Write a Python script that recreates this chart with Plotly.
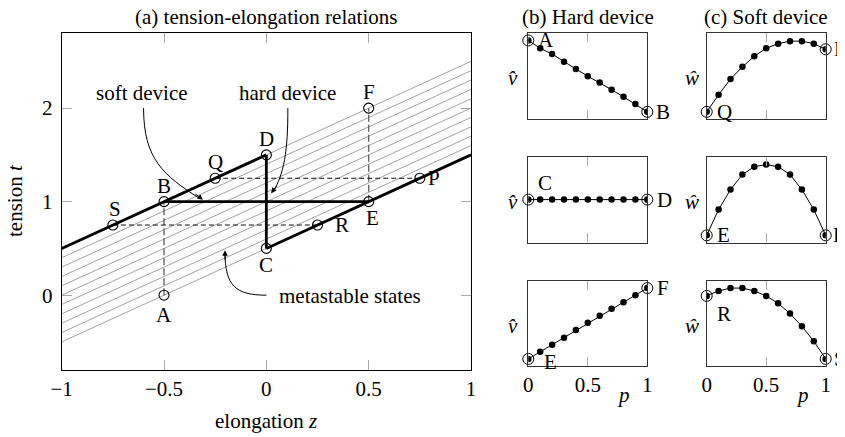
import plotly.graph_objects as go

# ---------------- data ----------------
# main panel: labelled states (elongation z, tension t)
state_labels = ["A", "B", "C", "D", "E", "F", "P", "Q", "R", "S"]
state_z = [-0.5, -0.5, 0.0, 0.0, 0.5, 0.5, 0.75, -0.25, 0.25, -0.75]
state_t = [0.0, 1.0, 0.5, 1.5, 1.0, 2.0, 1.25, 1.25, 0.75, 0.75]

# metastable branches t = z + c
meta_offsets = [0.5, 0.6, 0.7, 0.8, 0.9, 1.0, 1.1, 1.2, 1.3, 1.4, 1.5]
z_span = [-1.0, 1.0]

# thick stable branches
upper_z = [-1.0, 0.0]
upper_t = [0.5, 1.5]
lower_z = [0.0, 1.0]
lower_t = [0.5, 1.5]

# hard device path (B-E horizontal, C-D vertical)
hard_h_z = [-0.5, 0.5]
hard_h_t = [1.0, 1.0]
hard_v_z = [0.0, 0.0]
hard_v_t = [0.5, 1.5]

# dashed guide lines
dash_AB_z = [-0.5, -0.5]; dash_AB_t = [0.0, 1.0]
dash_EF_z = [0.5, 0.5];   dash_EF_t = [1.0, 2.0]
dash_QP_z = [-0.25, 0.75]; dash_QP_t = [1.25, 1.25]
dash_SR_z = [-0.75, 0.25]; dash_SR_t = [0.75, 0.75]

x_ticks = [-1, -0.5, 0, 0.5, 1]
x_ticktext = ["\u22121", "\u22120.5", "0", "0.5", "1"]
y_ticks = [0, 1, 2]
y_ticktext = ["0", "1", "2"]

# small panels: distributions over p
p = [0.0, 0.1, 0.2, 0.3, 0.4, 0.5, 0.6, 0.7, 0.8, 0.9, 1.0]
hard_AB = [1.0, 0.89, 0.81, 0.70, 0.60, 0.50, 0.41, 0.31, 0.21, 0.11, 0.0]
hard_CD = [0.5, 0.5, 0.5, 0.5, 0.5, 0.5, 0.5, 0.5, 0.5, 0.5, 0.5]
hard_EF = [0.0, 0.10, 0.20, 0.30, 0.41, 0.51, 0.61, 0.71, 0.80, 0.90, 1.0]
soft_QP = [0.0, 0.24, 0.46, 0.63, 0.78, 0.89, 0.955, 0.99, 0.99, 0.955, 0.876]
soft_EB = [0.0, 0.36, 0.64, 0.85, 0.96, 0.99, 0.96, 0.85, 0.64, 0.36, 0.0]
soft_RS = [0.89, 0.96, 1.0, 1.0, 0.96, 0.89, 0.785, 0.64, 0.46, 0.25, 0.0]
p_ticks = [0, 0.5, 1]
p_ticktext = ["0", "0.5", "1"]

# ---------------- figure ----------------
OFF = 8  # page body margin of the html page
W, H = 845 - OFF, 437 - OFF
FONT = "Liberation Serif"
FS = 21

def px_x(v):
    return (v - OFF) / W

def px_y(v):
    return 1 - (v - OFF) / H

def txt(**kw):
    d = dict(showarrow=False, xanchor="center", yanchor="middle",
             font=dict(family=FONT, size=FS, color="black"))
    d.update(kw)
    return d

fig = go.Figure()

# metastable gray lines
for c in meta_offsets:
    fig.add_trace(go.Scatter(x=z_span, y=[z + c for z in z_span], mode="lines",
                             line=dict(color="#999999", width=0.9),
                             xaxis="x", yaxis="y", hoverinfo="skip", showlegend=False))

# dashed guides
for zz, tt, col, wd, ds in [(dash_AB_z, dash_AB_t, "#666666", 1.4, "7px,3px"),
                            (dash_EF_z, dash_EF_t, "#666666", 1.4, "7px,3px"),
                            (dash_QP_z, dash_QP_t, "#111111", 1.0, "5px,3px"),
                            (dash_SR_z, dash_SR_t, "#111111", 1.0, "5px,3px")]:
    fig.add_trace(go.Scatter(x=zz, y=tt, mode="lines",
                             line=dict(color=col, width=wd, dash=ds),
                             xaxis="x", yaxis="y", hoverinfo="skip", showlegend=False))

# thick lines
for zz, tt in [(upper_z, upper_t), (lower_z, lower_t), (hard_h_z, hard_h_t), (hard_v_z, hard_v_t)]:
    fig.add_trace(go.Scatter(x=zz, y=tt, mode="lines",
                             line=dict(color="black", width=2.8),
                             xaxis="x", yaxis="y", hoverinfo="skip", showlegend=False))

# state markers
fig.add_trace(go.Scatter(x=state_z, y=state_t, mode="markers",
                         marker=dict(symbol="circle-open", size=10, color="black",
                                     line=dict(width=1.1, color="black")),
                         xaxis="x", yaxis="y", hoverinfo="skip", showlegend=False))

# state label offsets (px)
label_shift = {
    "A": (0, -20), "B": (0, 16), "C": (0, -17), "D": (0, 16), "E": (4, -16),
    "F": (0, 16), "P": (14, 0), "Q": (0, 16), "R": (24, 0), "S": (2, 16),
}
annotations = []
for lab, z, t in zip(state_labels, state_z, state_t):
    dx, dy = label_shift[lab]
    annotations.append(txt(x=z, y=t, xref="x", yref="y", text=lab, xshift=dx, yshift=dy))

# small panels
panels = [
    # (axis idx, values, col, row, start label, end label, start shift, end shift, ylabel)
    (2, hard_AB, 0, 0, "A", "B", (18, 0), (16, 0), "v"),
    (3, hard_CD, 0, 1, "C", "D", (17, 17), (17, 0), "v"),
    (4, hard_EF, 0, 2, "E", "F", (22, -3), (16, 0), "v"),
    (5, soft_QP, 1, 0, "Q", "P", (18, 0), (14, 0), "w"),
    (6, soft_EB, 1, 1, "E", "B", (17, 0), (14, 0), "w"),
    (7, soft_RS, 1, 2, "R", "S", (17, -18), (14, 0), "w"),
]
col_px = [(528.3, 647.3), (706.7, 825.7)]
row_px = [(33.3, 119.0), (156.7, 242.5), (281.0, 366.0)]

layout_axes = {}
for idx, vals, col, row, l0, l1, s0, s1, ylab in panels:
    xa, ya = f"x{idx}", f"y{idx}"
    fig.add_trace(go.Scatter(x=p, y=vals, mode="lines+markers",
                             line=dict(color="black", width=1),
                             marker=dict(size=6.5, color="black"),
                             xaxis=xa, yaxis=ya, hoverinfo="skip", showlegend=False))
    fig.add_trace(go.Scatter(x=[p[0], p[-1]], y=[vals[0], vals[-1]], mode="markers",
                             marker=dict(symbol="circle-open", size=11, color="black",
                                         line=dict(width=1, color="black")),
                             xaxis=xa, yaxis=ya, hoverinfo="skip", showlegend=False,
                             cliponaxis=False))
    x0, x1 = col_px[col]
    y0, y1 = row_px[row]
    bottom = row == 2
    layout_axes[f"xaxis{idx}"] = dict(
        domain=[px_x(x0), px_x(x1)], range=[0, 1], anchor=ya, automargin=False,
        showline=True, linecolor="#333333", linewidth=1.1, mirror="ticks",
        ticks="inside", ticklen=9, tickcolor="#aaaaaa", tickwidth=1,
        tickvals=[0.5] if not bottom else p_ticks,
        ticktext=["0.5"] if not bottom else p_ticktext,
        showticklabels=bottom, showgrid=False, zeroline=False,
        tickfont=dict(family=FONT, size=FS, color="black"),
    )
    layout_axes[f"yaxis{idx}"] = dict(
        domain=[px_y(y1), px_y(y0)], range=[-0.1, 1.1], anchor=xa, automargin=False,
        showline=True, linecolor="#333333", linewidth=1.1, mirror=True,
        ticks="", showticklabels=False, showgrid=False, zeroline=False,
    )
    annotations.append(txt(x=p[0], y=vals[0], xref=xa, yref=ya, text=l0,
                           xshift=s0[0], yshift=s0[1]))
    annotations.append(txt(x=p[-1], y=vals[-1], xref=xa, yref=ya, text=l1,
                           xshift=s1[0], yshift=s1[1]))
    ylab_txt = "<i>v\u0302</i>" if ylab == "v" else "<i>w\u0302</i>"
    annotations.append(txt(x=px_x(x0 - 15), y=px_y((y0 + y1) / 2 + 2), xref="paper", yref="paper",
                           text=ylab_txt))

# titles and axis labels
annotations += [
    txt(x=px_x(266), y=px_y(17), xref="paper", yref="paper", text="(a) tension-elongation relations"),
    txt(x=px_x(588), y=px_y(17), xref="paper", yref="paper", text="(b) Hard device"),
    txt(x=px_x(766), y=px_y(17), xref="paper", yref="paper", text="(c) Soft device"),
    txt(x=px_x(266), y=px_y(421), xref="paper", yref="paper", text="elongation <i>z</i>"),
    txt(x=px_x(15), y=px_y(201), xref="paper", yref="paper", textangle=-90, text="tension <i>t</i>"),
    txt(x=px_x(623), y=px_y(395), xref="paper", yref="paper", text="<i>p</i>"),
    txt(x=px_x(802), y=px_y(395), xref="paper", yref="paper", text="<i>p</i>"),
    # in-plot notes
    txt(x=-0.61, y=2.16, xref="x", yref="y", text="soft device"),
    txt(x=0.105, y=2.16, xref="x", yref="y", text="hard device"),
    txt(x=0.05, y=-0.01, xref="x", yref="y", xanchor="left", text="metastable states"),
    # arrow heads
    dict(x=-0.31, y=1.02, xref="x", yref="y", ax=-9, ay=-7, text="", showarrow=True,
         arrowhead=2, arrowsize=1.1, arrowwidth=1, arrowcolor="black"),
    dict(x=0.023, y=1.09, xref="x", yref="y", ax=7, ay=-9, text="", showarrow=True,
         arrowhead=2, arrowsize=1.1, arrowwidth=1, arrowcolor="black"),
    dict(x=-0.202, y=0.48, xref="x", yref="y", ax=0, ay=11, text="", showarrow=True,
         arrowhead=2, arrowsize=1.1, arrowwidth=1, arrowcolor="black"),
]

shapes = [
    dict(type="path", xref="x", yref="y", line=dict(color="black", width=1),
         path="M -0.60,2.0 C -0.60,1.45 -0.50,1.28 -0.33,1.04"),
    dict(type="path", xref="x", yref="y", line=dict(color="black", width=1),
         path="M 0.105,2.0 C 0.106,1.55 0.086,1.28 0.03,1.10"),
    dict(type="path", xref="x", yref="y", line=dict(color="black", width=1),
         path="M 0.0,0.0 C -0.15,0.0 -0.202,0.10 -0.202,0.46"),
]

fig.update_layout(
    width=W, height=H,
    margin=dict(l=0, r=0, t=0, b=0, pad=0, autoexpand=False),
    paper_bgcolor="white", plot_bgcolor="white",
    showlegend=False,
    font=dict(family=FONT, size=FS, color="black"),
    xaxis=dict(domain=[px_x(61.7), px_x(471)], range=[-1, 1], anchor="y", automargin=False,
               showline=True, linecolor="black", linewidth=1.2, mirror="ticks",
               ticks="inside", ticklen=10, tickcolor="#aaaaaa", tickwidth=1,
               tickvals=x_ticks, ticktext=x_ticktext, showgrid=False, zeroline=False,
               tickfont=dict(family=FONT, size=FS, color="black")),
    yaxis=dict(domain=[px_y(370), px_y(33.3)], range=[-0.8, 2.8], anchor="x", automargin=False,
               showline=True, linecolor="black", linewidth=1.2, mirror="ticks",
               ticks="inside", ticklen=10, tickcolor="#aaaaaa", tickwidth=1,
               ticklabelstandoff=4,
               tickvals=y_ticks, ticktext=y_ticktext, showgrid=False, zeroline=False,
               tickfont=dict(family=FONT, size=FS, color="black")),
    annotations=annotations,
    shapes=shapes,
    **layout_axes,
)

fig.write_html("out.html")
